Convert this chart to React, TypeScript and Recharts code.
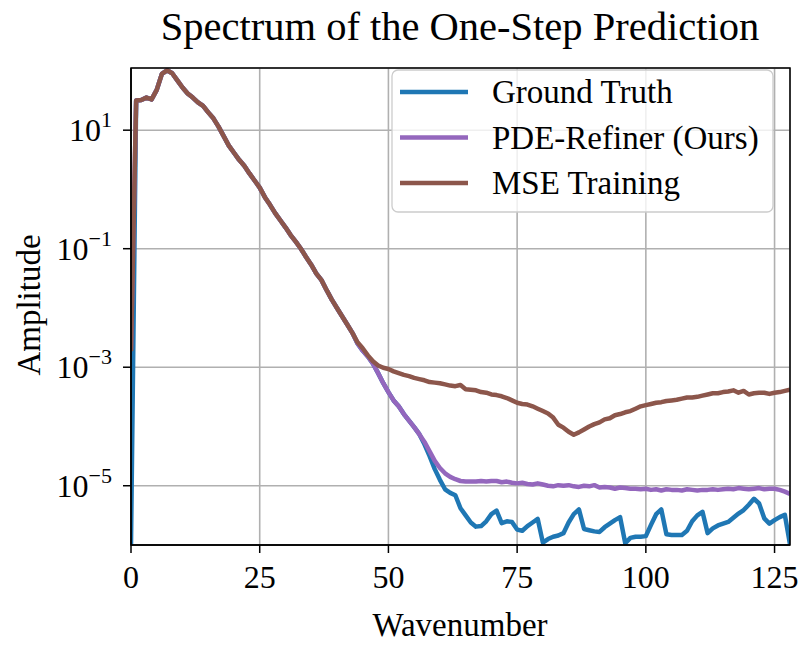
import React from "react";
import { LineChart, Line, XAxis, YAxis, CartesianGrid } from "recharts";

const FONT = '"Liberation Serif", "Times New Roman", serif';

// wavenumbers 0..128
const WAVENUMBER = Array.from({ length: 129 }, (_, i) => i);

// log10 of the amplitude
const GROUND_TRUTH_LOG = [
  -5.99, 1.50, 1.51, 1.55, 1.52, 1.68, 1.95, 2.01, 1.96, 1.84,
  1.72, 1.62, 1.55, 1.47, 1.41, 1.30, 1.20, 1.06, 0.90, 0.74,
  0.62, 0.50, 0.40, 0.27, 0.15, 0.03, -0.13, -0.26, -0.40, -0.52,
  -0.64, -0.77, -0.88, -1.00, -1.14, -1.27, -1.42, -1.53, -1.70, -1.86,
  -2.00, -2.14, -2.28, -2.42, -2.60, -2.72, -2.82, -2.94, -3.10, -3.27,
  -3.42, -3.56, -3.66, -3.79, -3.90, -4.01, -4.13, -4.30, -4.50, -4.72,
  -4.90, -5.06, -5.12, -5.16, -5.38, -5.50, -5.62, -5.69, -5.68, -5.60,
  -5.48, -5.42, -5.63, -5.60, -5.61, -5.74, -5.76, -5.68, -5.62, -5.56,
  -5.96, -5.90, -5.86, -5.84, -5.80, -5.62, -5.48, -5.40, -5.73, -5.75,
  -5.77, -5.78, -5.70, -5.64, -5.58, -5.53, -5.97, -5.88, -5.86, -5.86,
  -5.85, -5.66, -5.48, -5.40, -5.82, -5.83, -5.83, -5.83, -5.76, -5.60,
  -5.50, -5.44, -5.80, -5.72, -5.67, -5.64, -5.61, -5.54, -5.47, -5.41,
  -5.32, -5.22, -5.30, -5.55, -5.64, -5.58, -5.53, -5.49, -5.99,
];

const PDE_REFINER_LOG = [
  -2.70, 1.50, 1.51, 1.55, 1.52, 1.68, 1.95, 2.01, 1.96, 1.84,
  1.72, 1.62, 1.55, 1.47, 1.41, 1.30, 1.20, 1.06, 0.90, 0.74,
  0.62, 0.50, 0.40, 0.27, 0.15, 0.03, -0.13, -0.26, -0.40, -0.52,
  -0.64, -0.77, -0.88, -1.00, -1.14, -1.27, -1.42, -1.53, -1.70, -1.86,
  -2.00, -2.14, -2.28, -2.42, -2.60, -2.72, -2.82, -2.94, -3.10, -3.27,
  -3.42, -3.56, -3.66, -3.79, -3.90, -4.01, -4.13, -4.26, -4.42, -4.58,
  -4.70, -4.79, -4.85, -4.89, -4.92, -4.93, -4.93, -4.93, -4.92, -4.93,
  -4.92, -4.92, -4.94, -4.93, -4.95, -4.96, -4.95, -4.97, -4.98, -4.96,
  -4.98, -5.00, -5.01, -4.99, -5.00, -4.99, -5.01, -5.02, -5.00, -5.01,
  -4.99, -5.03, -5.02, -5.03, -5.05, -5.03, -5.04, -5.05, -5.05, -5.06,
  -5.05, -5.07, -5.06, -5.08, -5.06, -5.07, -5.07, -5.08, -5.06, -5.07,
  -5.08, -5.07, -5.07, -5.06, -5.07, -5.06, -5.05, -5.06, -5.04, -5.05,
  -5.06, -5.05, -5.04, -5.06, -5.05, -5.05, -5.07, -5.10, -5.14,
];

const MSE_TRAINING_LOG = [
  -2.73, 1.50, 1.51, 1.55, 1.52, 1.68, 1.95, 2.01, 1.96, 1.84,
  1.72, 1.62, 1.55, 1.47, 1.41, 1.30, 1.20, 1.06, 0.90, 0.74,
  0.62, 0.50, 0.40, 0.27, 0.15, 0.03, -0.13, -0.26, -0.40, -0.52,
  -0.64, -0.77, -0.88, -1.00, -1.14, -1.27, -1.42, -1.53, -1.70, -1.86,
  -2.00, -2.14, -2.28, -2.42, -2.58, -2.68, -2.80, -2.90, -2.97, -3.01,
  -3.03, -3.07, -3.10, -3.13, -3.15, -3.18, -3.20, -3.22, -3.25, -3.26,
  -3.27, -3.29, -3.31, -3.32, -3.30, -3.37, -3.38, -3.39, -3.42, -3.43,
  -3.46, -3.47, -3.49, -3.52, -3.56, -3.60, -3.62, -3.63, -3.66, -3.70,
  -3.74, -3.78, -3.85, -3.97, -4.02, -4.09, -4.14, -4.10, -4.05, -4.00,
  -3.96, -3.93, -3.88, -3.86, -3.81, -3.79, -3.76, -3.74, -3.70, -3.66,
  -3.64, -3.62, -3.60, -3.59, -3.57, -3.56, -3.55, -3.53, -3.51, -3.51,
  -3.50, -3.48, -3.46, -3.44, -3.44, -3.42, -3.41, -3.39, -3.43, -3.40,
  -3.46, -3.44, -3.43, -3.43, -3.45, -3.43, -3.42, -3.40, -3.38,
];

const X_TICKS = [0, 25, 50, 75, 100, 125];
const Y_TICKS = [1e1, 1e-1, 1e-3, 1e-5];

const SERIES = [
  { key: "gt", name: "Ground Truth", color: "#1f77b4" },
  { key: "pde", name: "PDE-Refiner (Ours)", color: "#9467bd" },
  { key: "mse", name: "MSE Training", color: "#8c564b" },
];

const data = WAVENUMBER.map((k, i) => ({
  k,
  gt: Math.pow(10, GROUND_TRUTH_LOG[i]),
  pde: Math.pow(10, PDE_REFINER_LOG[i]),
  mse: Math.pow(10, MSE_TRAINING_LOG[i]),
}));

function PowerTick({ x, y, payload }: any) {
  const exp = Math.round(Math.log10(payload.value));
  const sup = exp < 0 ? "\u2212" + Math.abs(exp) : String(exp);
  return (
    <text x={x} y={y + 11} textAnchor="end" fontFamily={FONT} fontSize={32} fill="#000">
      <tspan>10</tspan>
      <tspan dy={-14} fontSize={22}>
        {sup}
      </tspan>
    </text>
  );
}

export default function App() {
  const axisStroke = { stroke: "#000", strokeWidth: 1.5 };
  return (
    <div style={{ position: "relative", width: 800, height: 646, background: "#fff" }}>
      <style>{"body{margin:0}"}</style>
      <LineChart
        width={800}
        height={646}
        data={data}
        margin={{ top: 68, right: 10, bottom: 0, left: 0 }}
      >
        <CartesianGrid stroke="#b0b0b0" strokeWidth={1.6} />
        <XAxis
          dataKey="k"
          type="number"
          domain={[0, 128]}
          ticks={X_TICKS}
          allowDataOverflow
          height={101}
          tickSize={8}
          tickMargin={12}
          axisLine={axisStroke}
          tickLine={axisStroke}
          tick={{ fontFamily: FONT, fontSize: 32, fill: "#000" }}
        />
        <YAxis
          type="number"
          scale="log"
          domain={[1e-6, 112]}
          ticks={Y_TICKS}
          allowDataOverflow
          width={131}
          tickSize={8}
          tickMargin={11}
          axisLine={axisStroke}
          tickLine={axisStroke}
          tick={<PowerTick />}
        />
        {SERIES.map((s) => (
          <Line
            key={s.key}
            dataKey={s.key}
            name={s.name}
            type="linear"
            stroke={s.color}
            strokeWidth={4.5}
            strokeLinejoin="round"
            dot={false}
            activeDot={false}
            isAnimationActive={false}
          />
        ))}
      </LineChart>
      <svg
        width={800}
        height={646}
        style={{ position: "absolute", left: 0, top: 0, pointerEvents: "none" }}
      >
        <rect x={131} y={68} width={659} height={477} fill="none" stroke="#000" strokeWidth={1.5} />
        <text x={460} y={40} textAnchor="middle" fontFamily={FONT} fontSize={40.5} fill="#000">
          Spectrum of the One-Step Prediction
        </text>
        <text x={460} y={636} textAnchor="middle" fontFamily={FONT} fontSize={33} fill="#000">
          Wavenumber
        </text>
        <text
          x={0}
          y={0}
          transform="translate(40,305) rotate(-90)"
          textAnchor="middle"
          fontFamily={FONT}
          fontSize={33}
          fill="#000"
        >
          Amplitude
        </text>
        <rect
          x={392}
          y={70}
          width={381}
          height={142}
          rx={6}
          fill="rgba(255,255,255,0.8)"
          stroke="#cccccc"
          strokeWidth={1.3}
        />
        {SERIES.map((s, i) => (
          <g key={s.key}>
            <line
              x1={400}
              x2={468}
              y1={92 + i * 45.5}
              y2={92 + i * 45.5}
              stroke={s.color}
              strokeWidth={4.5}
            />
            <text x={492} y={103 + i * 45.5} fontFamily={FONT} fontSize={33} fill="#000">
              {s.name}
            </text>
          </g>
        ))}
      </svg>
    </div>
  );
}
